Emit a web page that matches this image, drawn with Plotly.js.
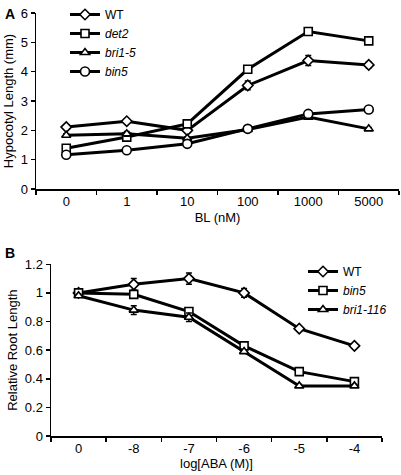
<!DOCTYPE html>
<html><head><meta charset="utf-8">
<script src="https://cdn.plot.ly/plotly-3.0.1.min.js"></script>
<style>html,body{margin:0;padding:0;background:#fff}#chart{width:401px;height:475px}</style>
</head><body><div id="chart"></div>
<script>
// Panel A: hypocotyl length (mm) vs BL (nM)
const blDoses = ["0", "1", "10", "100", "1000", "5000"];
const wtA    = [2.11, 2.31, 2.00, 3.53, 4.38, 4.23];
const det2A  = [1.39, 1.77, 2.22, 4.08, 5.37, 5.05];
const bri15A = [1.83, 1.88, 1.73, 2.03, 2.45, 2.05];
const bin5A  = [1.17, 1.32, 1.54, 2.05, 2.56, 2.71];
const wtAErr    = [0.06, 0.06, 0.06, 0.15, 0.17, 0.10];
const det2AErr  = [0.05, 0.05, 0.08, 0.08, 0.10, 0.08];
const bri15AErr = [0.05, 0.08, 0.05, 0.05, 0.05, 0.05];
const bin5AErr  = [0.04, 0.04, 0.05, 0.05, 0.05, 0.05];

// Panel B: relative root length vs log[ABA (M)]
const abaDoses = ["0", "-8", "-7", "-6", "-5", "-4"];
const wtB     = [1.00, 1.06, 1.10, 1.00, 0.75, 0.63];
const bin5B   = [1.00, 0.99, 0.87, 0.63, 0.45, 0.38];
const bri116B = [0.98, 0.88, 0.83, 0.59, 0.35, 0.35];
const wtBErr     = [0.01, 0.04, 0.04, 0.03, 0.01, 0.01];
const bin5BErr   = [0.01, 0.01, 0.02, 0.01, 0.01, 0.01];
const bri116BErr = [0.01, 0.03, 0.03, 0.01, 0.01, 0.01];

const FONT = "Liberation Sans, Arial, Helvetica, sans-serif";
const W = 401, H = 475;

function tr(x, y, err, name, symbol, size, xa, ya, legend) {
  return {
    x: x, y: y, name: name, type: "scatter", mode: "lines+markers",
    xaxis: xa, yaxis: ya, legend: legend,
    line: {color: "#000", width: 3},
    marker: {symbol: symbol, size: size, color: "#fff", line: {color: "#000", width: 1.6}},
    error_y: {type: "data", array: err, visible: true, color: "#000", thickness: 1.5, width: 3},
    hoverinfo: "skip"
  };
}

const data = [
  tr(blDoses, wtA, wtAErr, "WT", "diamond", 8, "x", "y", "legend"),
  tr(blDoses, det2A, det2AErr, "<i>det2</i>", "square", 8, "x", "y", "legend"),
  tr(blDoses, bri15A, bri15AErr, "<i>bri1-5</i>", "triangle-up", 8, "x", "y", "legend"),
  tr(blDoses, bin5A, bin5AErr, "<i>bin5</i>", "circle", 9, "x", "y", "legend"),
  tr(abaDoses, wtB, wtBErr, "WT", "diamond", 8, "x2", "y2", "legend2"),
  tr(abaDoses, bin5B, bin5BErr, "<i>bin5</i>", "square", 8, "x2", "y2", "legend2"),
  tr(abaDoses, bri116B, bri116BErr, "<i>bri1-116</i>", "triangle-up", 8, "x2", "y2", "legend2")
];

const axBase = {
  showgrid: false, zeroline: false, showline: true, linecolor: "#000", linewidth: 1.5,
  ticks: "outside", ticklen: 4, tickwidth: 1.5, tickcolor: "#000",
  tickfont: {family: FONT, size: 13, color: "#000"}, fixedrange: true
};

function px(v) { return v / W; }
function py(v) { return 1 - v / H; }

// inner half of the crossing tick marks on the category x axes
function innerTicks(over, anchor) {
  return {
    overlaying: over, anchor: anchor, type: "linear", range: [-0.5, 5.5],
    tick0: -0.5, dtick: 1, ticks: "inside", ticklen: 4, tickwidth: 1.5, tickcolor: "#000",
    showticklabels: false, showline: false, showgrid: false, zeroline: false, fixedrange: true
  };
}

const layout = {
  width: W, height: H,
  margin: {l: 0, r: 0, t: 0, b: 0},
  paper_bgcolor: "#fff", plot_bgcolor: "#fff",
  font: {family: FONT, size: 13, color: "#000"},
  showlegend: true,
  xaxis: Object.assign({}, axBase, {
    domain: [px(36), px(399)], anchor: "y", type: "category",
    range: [-0.5, 5.5], tickson: "boundaries", ticklen: 4,
    title: {text: "BL (nM)", font: {family: FONT, size: 13}, standoff: 5}
  }),
  yaxis: Object.assign({}, axBase, {
    domain: [py(189), py(13)], anchor: "x", range: [0, 6], dtick: 1,
    title: {text: "Hypocotyl Length (mm)", font: {family: FONT, size: 13}, standoff: 4}
  }),
  xaxis3: innerTicks("x", "y"),
  xaxis2: Object.assign({}, axBase, {
    domain: [px(51), px(382)], anchor: "y2", type: "category",
    range: [-0.5, 5.5], tickson: "boundaries", ticklen: 4,
    title: {text: "log[ABA (M)]", font: {family: FONT, size: 13}, standoff: 2}
  }),
  xaxis4: innerTicks("x2", "y2"),
  yaxis2: Object.assign({}, axBase, {
    domain: [py(436), py(264.3)], anchor: "x2", range: [0, 1.2],
    tickvals: [0, 0.2, 0.4, 0.6, 0.8, 1, 1.2], ticktext: ["0", "0.2", "0.4", "0.6", "0.8", "1", "1.2"],
    title: {text: "Relative Root Length", font: {family: FONT, size: 13}, standoff: 4}
  }),
  legend: {
    x: px(65), y: py(0), xanchor: "left", yanchor: "top",
    bgcolor: "rgba(0,0,0,0)", borderwidth: 0,
    font: {family: FONT, size: 12, color: "#000"}, itemwidth: 30, tracegroupgap: 0
  },
  legend2: {
    x: px(303), y: py(257), xanchor: "left", yanchor: "top",
    bgcolor: "rgba(0,0,0,0)", borderwidth: 0,
    font: {family: FONT, size: 12, color: "#000"}, itemwidth: 30, tracegroupgap: 0
  },
  annotations: [
    {text: "<b>A</b>", xref: "paper", yref: "paper", x: px(3), y: py(4), xanchor: "left", yanchor: "top",
     showarrow: false, font: {family: FONT, size: 14, color: "#000"}},
    {text: "<b>B</b>", xref: "paper", yref: "paper", x: px(3), y: py(243), xanchor: "left", yanchor: "top",
     showarrow: false, font: {family: FONT, size: 14, color: "#000"}}
  ]
};

Plotly.newPlot("chart", data, layout, {staticPlot: true, displayModeBar: false});
</script>
</body></html>
